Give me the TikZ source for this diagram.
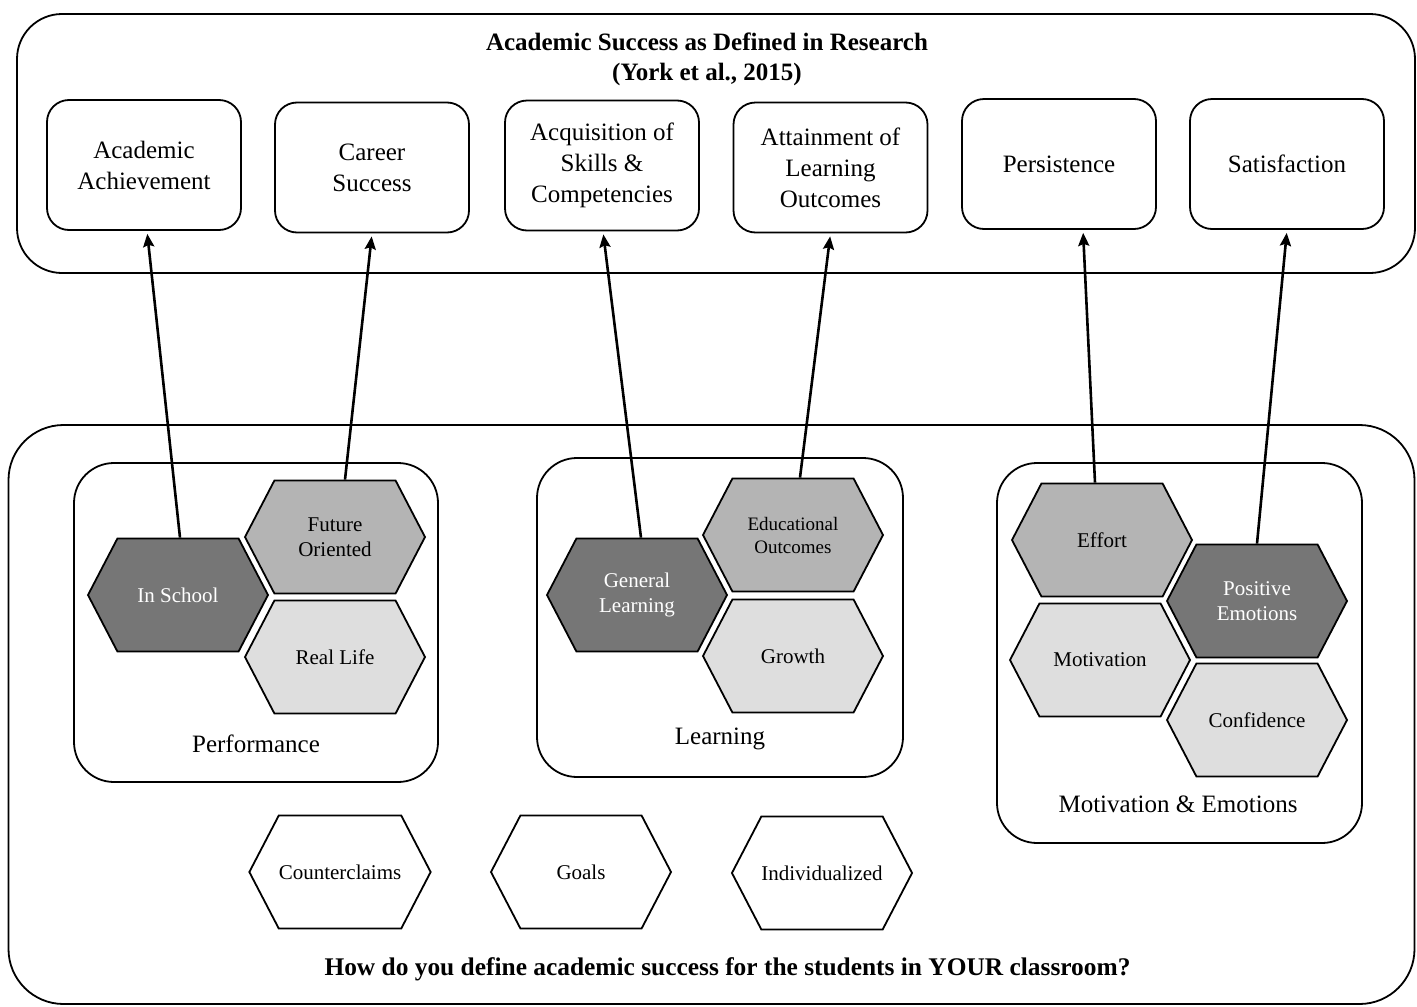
\documentclass[tikz,border=0pt]{standalone}
\usepackage{fontspec}
\setmainfont{Liberation Serif}
\usetikzlibrary{shapes.symbols,arrows.meta}
\definecolor{hexdark}{RGB}{118,118,118}
\definecolor{hexmid}{RGB}{180,180,180}
\definecolor{hexlight}{RGB}{222,222,222}
\newcommand\fbig{\fontsize{25}{31}\selectfont}
\newcommand\fhex{\fontsize{21}{25}\selectfont}
\newcommand\fhexs{\fontsize{19}{23}\selectfont}
\tikzset{
  frame/.style={draw, line width=1.8pt, rounded corners=45pt, inner sep=0pt},
  groupbox/.style={draw, line width=1.8pt, rounded corners=40pt, inner sep=0pt},
  topbox/.style={draw, line width=1.8pt, rounded corners=22pt, minimum width=194pt, minimum height=130pt, align=center, font=\fbig, inner sep=0pt},
  hexbox/.style={shape=signal, signal to=east and west, signal pointer angle=125, draw, line width=1.8pt, minimum width=180pt, minimum height=113pt, inner sep=0pt, align=center, font=\fhex},
  dk/.style={hexbox, fill=hexdark, text=white},
  md/.style={hexbox, fill=hexmid},
  lt/.style={hexbox, fill=hexlight},
  wh/.style={hexbox, fill=white},
  lbl/.style={font=\fbig, inner sep=0pt},
  arr/.style={line width=2.6pt, shorten >=3pt, -{Stealth[length=13pt, width=11pt, inset=2pt]}},
}
\begin{document}
\begin{tikzpicture}[x=1pt, y=-1pt]
\useasboundingbox[fill=white] (0,0) rectangle (1417,1007);
% frames
\node[frame, minimum width=1398pt, minimum height=259pt] (topframe) at (716,143.5) {};
\node[frame, rounded corners=55pt, minimum width=1406pt, minimum height=579pt] (botframe) at (711.5,714.5) {};
\node[align=center, font=\fontsize{25}{30}\selectfont\bfseries, inner sep=0pt] (title) at (707,59) {Academic Success as Defined in Research\\(York et al., 2015)};
\node[font=\fontsize{25.4}{30}\selectfont\bfseries, inner sep=0pt] (question) at (727.5,969) {How do you define academic success for the students in YOUR classroom?};
% top boxes
\node[topbox] (acad) at (144,165) {Academic\\Achievement};
\node[topbox] (career) at (372,167.5) {Career\\Success};
\node[topbox] (acq) at (602,165.5) {Acquisition of\\Skills \&\\Competencies};
\node[topbox] (att) at (830.5,167.5) {Attainment of\\Learning\\Outcomes};
\node[topbox] (pers) at (1059,164) {Persistence};
\node[topbox] (sat) at (1287,164) {Satisfaction};
% group boxes
\node[groupbox, minimum width=364pt, minimum height=319pt] (perf) at (256,622.5) {};
\node[groupbox, minimum width=366pt, minimum height=319pt] (learn) at (720,617.5) {};
\node[groupbox, minimum width=365pt, minimum height=380pt] (motemo) at (1179.5,653) {};
\node[lbl] (perflbl) at (256,744) {Performance};
\node[lbl] (learnlbl) at (720,739) {Learning};
\node[lbl] (motemolbl) at (1178,804) {Motivation \& Emotions};
% performance hexes
\node[dk] (insch) at (178,595) {In School};
\node[md] (future) at (335,537) {Future\\Oriented};
\node[lt] (reallife) at (335,657) {Real Life};
% learning hexes
\node[dk] (genlearn) at (637,595) {General\\Learning};
\node[md, font=\fhexs] (eduout) at (793,535) {Educational\\Outcomes};
\node[lt] (growth) at (793,656) {Growth};
% motivation hexes
\node[md] (effort) at (1102,540) {Effort};
\node[dk] (posemo) at (1257,601) {Positive\\Emotions};
\node[lt] (motiv) at (1100,660) {Motivation};
\node[lt] (conf) at (1257,720) {Confidence};
% bottom hexes
\node[wh] (counter) at (340,872) {Counterclaims};
\node[wh] (goals) at (581,872) {Goals};
\node[wh] (indiv) at (822,873) {Individualized};
% arrows
\draw[arr] ([xshift=2pt]insch.north) -- ([xshift=3pt]acad.south);
\draw[arr] ([xshift=10pt]future.north) -- (career.south);
\draw[arr] ([xshift=4pt]genlearn.north) -- ([xshift=1pt]acq.south);
\draw[arr] ([xshift=7pt]eduout.north) -- (att.south);
\draw[arr] ([xshift=-7pt]effort.north) -- ([xshift=24pt]pers.south);
\draw[arr] (posemo.north) -- (sat.south);
\end{tikzpicture}
\end{document}
